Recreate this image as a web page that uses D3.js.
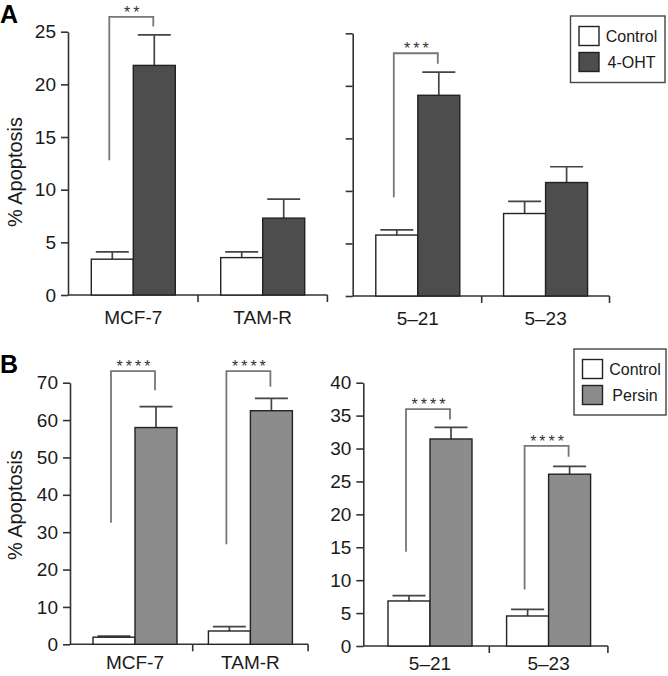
<!DOCTYPE html>
<html>
<head>
<meta charset="utf-8">
<script src="https://cdn.jsdelivr.net/npm/d3@7"></script>
<style>
  body { margin: 0; background: #fff; }
  svg { font-family: "Liberation Sans", Arial, sans-serif; }
</style>
</head>
<body>
<div id="chart"></div>
<script>
// cell lines, left and right half of each panel
const linesLeft = ['MCF-7', 'TAM-R']
const linesRight = ['5–21', '5–23']

// panel A: control vs 4-OHT (% apoptosis, upper SE)
const ctrlA = [3.4, 3.55, 5.8, 7.85]
const ctrlErrA = [0.7, 0.55, 0.5, 1.15]
const ohtA = [21.8, 7.3, 19.1, 10.8]
const ohtErrA = [2.9, 1.8, 2.2, 1.5]

// panel B: control vs persin
const ctrlB = [1.9, 3.56, 6.84, 4.56]
const ctrlErrB = [0.3, 1.15, 0.8, 1.0]
const persinB = [58.0, 62.5, 31.45, 26.1]
const persinErrB = [5.6, 3.3, 1.75, 1.2]

// significance brackets: [line index, left foot, top, right foot, stars]
const bracketsA = [[0, 12.8, 26.4, 25.5, '**'], [2, 9.4, 23.1, 22.1, '***']]
const bracketsB = [
  [0, 32.5, 73.1, 68.0, '****'], [1, 26.8, 73.1, 68.9, '****'],
  [2, 14.3, 36.0, 34.4, '****'], [3, 8.6, 30.4, 28.75, '****']
]

const WIDTH = 668, HEIGHT = 676
const BAR_W = 42
const CAP_W = 33
const AXIS = '#333'
const BRACKET = '#777'

const svg = d3.select('#chart').append('svg')
  .attr('width', WIDTH)
  .attr('height', HEIGHT)

const drawHalf = (p) => {
  const g = svg.append('g')

  const y = d3.scaleLinear().domain([0, p.max]).range([p.bottom, p.top])
  const x = d3.scaleBand().domain(p.lines).range(p.band)
  const sub = d3.scaleBand().domain(['ctrl', 'trt'])
    .range([x.bandwidth() / 2 - BAR_W, x.bandwidth() / 2 + BAR_W])

  // y axis
  const yAxis = d3.axisLeft(y)
    .tickValues(d3.range(0, p.max + 0.001, p.step))
    .tickSize(7).tickSizeOuter(0).tickPadding(5)
  if (!p.labels) yAxis.tickFormat('')
  const ya = g.append('g')
    .attr('transform', `translate(${p.axisX}, 0)`)
    .call(yAxis)
  ya.selectAll('path, line').attr('stroke', AXIS).attr('stroke-width', 1.6)
  ya.selectAll('text').attr('font-size', 19).attr('fill', '#1a1a1a')

  // x axis: baseline, ticks on band edges, labels at centres
  g.append('line')
    .attr('x1', p.axisX).attr('x2', x.range()[1])
    .attr('y1', y(0)).attr('y2', y(0))
    .attr('stroke', AXIS).attr('stroke-width', 1.6)
  g.selectAll('.edge').data(p.lines).enter().append('line')
    .attr('x1', d => x(d) + x.step()).attr('x2', d => x(d) + x.step())
    .attr('y1', y(0)).attr('y2', y(0) + 7)
    .attr('stroke', AXIS).attr('stroke-width', 1.6)
  g.selectAll('.lab').data(p.lines).enter().append('text')
    .attr('x', d => x(d) + x.bandwidth() / 2)
    .attr('y', y(0) + p.labGap)
    .attr('text-anchor', 'middle')
    .attr('font-size', 19)
    .attr('fill', '#1a1a1a')
    .text(d => d)

  const rows = p.lines.map((d, i) => ({
    line: d,
    ctrl: p.ctrl[i], ctrlErr: p.ctrlErr[i],
    trt: p.trt[i], trtErr: p.trtErr[i]
  }))

  const series = [
    { key: 'ctrl', fill: '#fff', v: d => d.ctrl, e: d => d.ctrlErr },
    { key: 'trt', fill: p.color, v: d => d.trt, e: d => d.trtErr }
  ]

  series.forEach(s => {
    const cx = d => x(d.line) + sub(s.key) + sub.bandwidth() / 2
    // error bars (upper only)
    g.selectAll(`.err-${s.key}`).data(rows).enter().append('line')
      .attr('x1', cx).attr('x2', cx)
      .attr('y1', d => y(s.v(d))).attr('y2', d => y(s.v(d) + s.e(d)))
      .attr('stroke', '#444').attr('stroke-width', 1.7)
    g.selectAll(`.cap-${s.key}`).data(rows).enter().append('line')
      .attr('x1', d => cx(d) - CAP_W / 2).attr('x2', d => cx(d) + CAP_W / 2)
      .attr('y1', d => y(s.v(d) + s.e(d))).attr('y2', d => y(s.v(d) + s.e(d)))
      .attr('stroke', '#444').attr('stroke-width', 1.7)
    g.selectAll(`.bar-${s.key}`).data(rows).enter().append('rect')
      .attr('x', d => x(d.line) + sub(s.key))
      .attr('width', sub.bandwidth())
      .attr('y', d => y(s.v(d)))
      .attr('height', d => y(0) - y(s.v(d)))
      .attr('fill', s.fill)
      .attr('stroke', '#222')
      .attr('stroke-width', 1.4)
  })

  // brackets
  g.selectAll('.br').data(p.brackets).enter().append('path')
    .attr('fill', 'none')
    .attr('stroke', BRACKET)
    .attr('stroke-width', 1.8)
    .attr('d', b => {
      const d = p.all[b[0]]
      const xl = x(d) + sub('ctrl') + sub.bandwidth() / 2 - 3
      const xr = x(d) + sub('trt') + sub.bandwidth() / 2 - 1
      return `M${xl},${y(b[1])}V${y(b[2])}H${xr}V${y(b[3])}`
    })
  g.selectAll('.stars').data(p.brackets).enter().append('text')
    .attr('x', b => x(p.all[b[0]]) + x.bandwidth() / 2)
    .attr('y', b => y(b[2]) + 1)
    .attr('text-anchor', 'middle')
    .attr('font-size', 16)
    .attr('letter-spacing', 3)
    .attr('fill', '#333')
    .text(b => b[4])
}

const drawLegend = (x0, y0, w, h, label, color) => {
  const g = svg.append('g').attr('transform', `translate(${x0}, ${y0})`)
  g.append('rect')
    .attr('width', w).attr('height', h)
    .attr('fill', '#fff').attr('stroke', '#444').attr('stroke-width', 1.4)
  const items = [['Control', '#fff'], [label, color]]
  items.forEach((it, i) => {
    g.append('rect')
      .attr('x', 8.5).attr('y', 10.5 + i * 26)
      .attr('width', 20).attr('height', 19)
      .attr('fill', it[1]).attr('stroke', '#222').attr('stroke-width', 1.4)
    g.append('text')
      .attr('x', 61).attr('y', 20 + i * 26)
      .attr('dy', '0.35em')
      .attr('text-anchor', 'middle')
      .attr('font-size', 16)
      .attr('fill', '#1a1a1a')
      .text(it[0])
  })
}

const yLabel = (yc) => {
  svg.append('text')
    .attr('transform', `translate(22, ${yc}) rotate(-90)`)
    .attr('text-anchor', 'middle')
    .attr('font-size', 20)
    .attr('fill', '#1a1a1a')
    .text('% Apoptosis')
}

const panelLetter = (t, yb) => {
  svg.append('text')
    .attr('x', 0).attr('y', yb)
    .attr('font-size', 25)
    .attr('font-weight', 'bold')
    .text(t)
}

const allLines = linesLeft.concat(linesRight)
const pick = (arr, half) => half === 0 ? arr.slice(0, 2) : arr.slice(2)
const remap = (brs, half) => brs.filter(b => (b[0] < 2) === (half === 0))

// panel A
const darkA = '#4d4d4d'
drawHalf({
  lines: linesLeft, all: allLines, axisX: 68, band: [68.6, 327.4],
  bottom: 295, top: 31.7, max: 25, step: 5, labels: true, labGap: 29,
  ctrl: pick(ctrlA, 0), ctrlErr: pick(ctrlErrA, 0),
  trt: pick(ohtA, 0), trtErr: pick(ohtErrA, 0),
  color: darkA, brackets: remap(bracketsA, 0)
})
drawHalf({
  lines: linesRight, all: allLines, axisX: 352.7, band: [353.9, 609.5],
  bottom: 296, top: 33.3, max: 25, step: 5, labels: false, labGap: 29,
  ctrl: pick(ctrlA, 1), ctrlErr: pick(ctrlErrA, 1),
  trt: pick(ohtA, 1), trtErr: pick(ohtErrA, 1),
  color: darkA, brackets: remap(bracketsA, 1)
})
drawLegend(570.5, 16, 94.5, 66.5, '4-OHT', darkA)
yLabel(172)
panelLetter('A', 23)

// panel B
const greyB = '#8c8c8c'
drawHalf({
  lines: linesLeft, all: allLines, axisX: 70, band: [77.3, 308.1],
  bottom: 644.3, top: 382.7, max: 70, step: 10, labels: true, labGap: 25,
  ctrl: pick(ctrlB, 0), ctrlErr: pick(ctrlErrB, 0),
  trt: pick(persinB, 0), trtErr: pick(persinErrB, 0),
  color: greyB, brackets: remap(bracketsB, 0)
})
drawHalf({
  lines: linesRight, all: allLines, axisX: 363.3, band: [370.7, 607.9],
  bottom: 646, top: 382.7, max: 40, step: 5, labels: true, labGap: 24,
  ctrl: pick(ctrlB, 1), ctrlErr: pick(ctrlErrB, 1),
  trt: pick(persinB, 1), trtErr: pick(persinErrB, 1),
  color: greyB, brackets: remap(bracketsB, 1)
})
drawLegend(574, 349, 92, 66, 'Persin', greyB)
yLabel(505)
panelLetter('B', 373)
</script>
</body>
</html>
